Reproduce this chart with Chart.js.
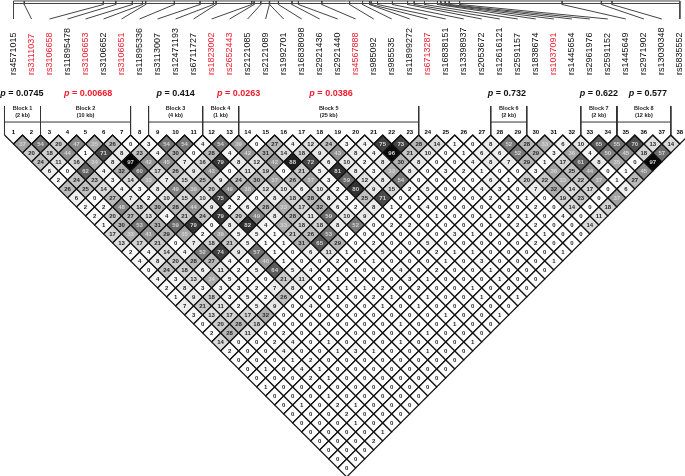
<!DOCTYPE html>
<html>
<head>
<meta charset="utf-8">
<title>LD plot</title>
<script src="https://cdn.jsdelivr.net/npm/chart.js@4/dist/chart.umd.min.js"></script>
<style>
html, body { margin: 0; padding: 0; background: #fff; }
canvas { display: block; filter: blur(0.35px); }
</style>
</head>
<body>
<canvas id="ldChart" width="685" height="476"></canvas>
<script>
// SNP names, left to right
const snpNames = ['rs4571015', 'rs3111037', 'rs3106658', 'rs11895478', 'rs3106653', 'rs3106652', 'rs3106651', 'rs11895336', 'rs3113007', 'rs12471193', 'rs6711727', 'rs1823002', 'rs2652443', 'rs2121085', 'rs2121089', 'rs1992701', 'rs16838098', 'rs2921436', 'rs2921440', 'rs4567888', 'rs985092', 'rs985535', 'rs11899272', 'rs6713287', 'rs16838151', 'rs13398937', 'rs2053672', 'rs12616121', 'rs2591157', 'rs1838674', 'rs1037091', 'rs1445654', 'rs2961976', 'rs2591152', 'rs1445649', 'rs2971902', 'rs13030348', 'rs5835552'];
const redSnps = ['rs3111037', 'rs3106658', 'rs3106653', 'rs3106651', 'rs1823002', 'rs2652443', 'rs4567888', 'rs6713287', 'rs1037091'];

// where each SNP sits on the physical track, in marker units
const snpTrack = [1, 1.6, 5.99, 6.68, 7.6, 8.16, 8.34, 9.93, 11.36, 12.1, 12.25, 14.23, 14.36, 14.73, 15.21, 15.22, 15.71, 16.46, 16.82, 18.12, 19.66, 20.38, 20.77, 20.86, 21.21, 22.04, 22.88, 23.25, 23.82, 24.54, 24.73, 24.97, 25.19, 25.77, 31.46, 33.64, 34.23, 38];

// haplotype blocks
const blockFirst = [1, 3, 9, 12, 14, 28, 33, 35];
const blockLast = [2, 7, 11, 13, 23, 29, 34, 37];
const blockKb = [2, 10, 4, 1, 25, 2, 2, 12];
const blockP = ['0.0745', '0.00668', '0.414', '0.0263', '0.0386', '0.732', '0.622', '0.577'];
const blockPAt = [1.47, 5.14, 10, 13.5, 18.63, 28.4, 33.5, 36.23];

// r2 x 100, one row per marker distance (row 1 = neighbours)
const ldRows = [
    [37, 54, 20, 47, 35, 26, 0, 3, 54, 54, 4, 54, 39, 0, 27, 4, 12, 24, 3, 4, 75, 73, 28, 14, 1, 0, 8, 52, 28, 33, 6, 10, 65, 55, 70, 13, 14],
    [20, 18, 44, 1, 71, 8, 23, 4, 30, 0, 28, 4, 42, 31, 14, 18, 9, 43, 8, 4, 96, 21, 10, 0, 1, 6, 6, 52, 29, 3, 36, 4, 50, 45, 18, 57],
    [24, 11, 16, 34, 8, 97, 42, 45, 7, 16, 79, 8, 12, 42, 88, 72, 6, 10, 2, 8, 30, 8, 0, 0, 4, 8, 7, 29, 1, 17, 61, 8, 35, 0, 97],
    [6, 0, 62, 4, 32, 60, 17, 26, 9, 43, 0, 11, 19, 0, 21, 5, 81, 8, 3, 33, 8, 0, 3, 2, 1, 0, 0, 3, 36, 25, 44, 0, 1, 45],
    [2, 24, 23, 3, 14, 33, 7, 15, 25, 9, 24, 30, 37, 26, 37, 3, 59, 12, 8, 54, 0, 0, 0, 0, 6, 1, 20, 22, 33, 22, 37, 1, 27],
    [26, 25, 14, 4, 3, 8, 49, 39, 20, 49, 38, 12, 10, 6, 10, 2, 80, 9, 15, 2, 5, 0, 0, 4, 3, 0, 7, 32, 14, 17, 0, 6],
    [6, 0, 27, 7, 2, 10, 15, 10, 75, 2, 0, 8, 18, 28, 8, 3, 25, 71, 0, 1, 0, 0, 0, 2, 1, 1, 0, 19, 23, 0, 37],
    [2, 2, 48, 18, 30, 28, 44, 9, 2, 6, 28, 33, 17, 32, 6, 2, 8, 1, 0, 4, 0, 0, 0, 0, 0, 2, 0, 14, 0, 18],
    [2, 20, 27, 13, 4, 21, 24, 79, 20, 49, 8, 28, 11, 59, 10, 9, 0, 2, 0, 1, 0, 0, 1, 2, 1, 0, 4, 0, 11],
    [1, 30, 53, 31, 59, 79, 0, 8, 82, 4, 33, 18, 18, 8, 52, 0, 2, 2, 0, 0, 0, 0, 0, 2, 2, 0, 0, 14],
    [17, 33, 41, 29, 35, 2, 39, 5, 5, 1, 21, 26, 53, 0, 0, 0, 0, 0, 0, 3, 1, 0, 0, 1, 1, 0, 0],
    [13, 17, 21, 0, 7, 18, 21, 5, 1, 1, 31, 65, 29, 0, 2, 0, 0, 5, 0, 0, 0, 0, 0, 2, 0, 0],
    [2, 4, 14, 4, 52, 74, 9, 57, 1, 0, 6, 11, 1, 1, 5, 0, 0, 2, 1, 1, 0, 0, 0, 0, 1],
    [4, 8, 20, 28, 27, 4, 0, 40, 1, 0, 0, 2, 0, 1, 0, 0, 0, 1, 0, 3, 0, 0, 0, 1],
    [0, 24, 18, 6, 11, 2, 5, 64, 5, 4, 0, 0, 0, 0, 4, 0, 2, 0, 0, 1, 0, 0, 0],
    [4, 3, 13, 34, 5, 1, 0, 21, 11, 0, 1, 1, 0, 0, 3, 1, 0, 0, 0, 1, 0, 0],
    [2, 8, 3, 3, 3, 2, 7, 8, 0, 1, 1, 1, 2, 0, 2, 0, 0, 1, 0, 0, 0],
    [1, 9, 18, 3, 5, 2, 26, 0, 0, 1, 0, 2, 1, 0, 1, 0, 0, 1, 0, 1],
    [7, 21, 11, 2, 5, 9, 0, 4, 0, 0, 0, 1, 0, 1, 0, 0, 0, 0, 0],
    [3, 13, 17, 17, 32, 0, 0, 0, 0, 0, 0, 0, 0, 0, 1, 0, 0, 1],
    [0, 20, 28, 18, 0, 0, 0, 0, 0, 0, 0, 1, 0, 0, 1, 0, 0],
    [2, 28, 11, 0, 2, 0, 1, 0, 0, 0, 0, 0, 1, 0, 0, 0],
    [14, 0, 0, 2, 4, 0, 1, 0, 0, 0, 1, 0, 0, 0, 1],
    [2, 0, 0, 4, 0, 0, 1, 3, 1, 0, 0, 1, 0, 0],
    [0, 0, 0, 1, 2, 0, 0, 0, 0, 0, 0, 0, 0],
    [0, 1, 0, 4, 1, 0, 0, 0, 0, 0, 0, 0],
    [0, 0, 0, 2, 1, 0, 0, 0, 0, 0, 0],
    [1, 0, 0, 0, 0, 0, 0, 0, 0, 0],
    [0, 0, 0, 1, 0, 0, 0, 0, 0],
    [0, 1, 0, 2, 1, 0, 0, 0],
    [0, 0, 0, 2, 0, 0, 0],
    [0, 0, 0, 1, 0, 0],
    [0, 0, 0, 0, 1],
    [0, 0, 0, 2],
    [0, 0, 0],
    [0, 0],
    [0]
];

const RED = '#ef1c2e';
const FONT = '"Liberation Sans", Arial, sans-serif';

function shade(v) {
    const g = Math.round(255 * (1 - v / 100));
    return 'rgb(' + g + ',' + g + ',' + g + ')';
}

// one point per pair of markers: x halfway between them, y = how far apart
const cellPoints = [];
ldRows.forEach(function (row, r) {
    row.forEach(function (v, k) {
        cellPoints.push({ x: k + 1 + (r + 1) / 2, y: r + 1, v: v });
    });
});

// rail with a stalk from every SNP's track position down to its name
const railY = -14.61;
const trackLines = [
    { x: 1, y: -14.89 }, { x: 38, y: -14.89 }, { x: NaN, y: NaN },
    { x: 1, y: railY }, { x: 38, y: railY }, { x: NaN, y: NaN }
];
snpTrack.forEach(function (pos, k) {
    trackLines.push({ x: pos, y: -14.89 }, { x: pos, y: -14.5 }, { x: k + 1, y: -12.89 }, { x: NaN, y: NaN });
});

// zigzag under the marker number row
const zigzag = [];
snpNames.forEach(function (name, k) {
    zigzag.push({ x: k + 0.5, y: 0 }, { x: k + 1, y: 1 });
});
zigzag.push({ x: 38.5, y: 0 });

// block frames
const blockLines = [];
blockFirst.forEach(function (first, b) {
    const l = first - 0.5;
    const r = blockLast[b] + 0.5;
    blockLines.push({ x: l, y: -3.22 }, { x: l, y: 0 }, { x: NaN, y: NaN });
    blockLines.push({ x: r, y: -3.22 }, { x: r, y: 0 }, { x: NaN, y: NaN });
    blockLines.push({ x: l, y: -1.44 }, { x: r, y: -1.44 }, { x: NaN, y: NaN });
});

// all the text goes on after the marks, placed through the scales
const textPlugin = {
    id: 'ldText',
    afterDatasetsDraw(chart) {
        const ctx = chart.ctx;
        const xs = chart.scales.x;
        const ys = chart.scales.y;
        ctx.save();

        // r2 numbers
        ctx.textAlign = 'center';
        ctx.textBaseline = 'middle';
        ctx.font = 'bold 6px ' + FONT;
        cellPoints.forEach(function (c) {
            ctx.fillStyle = c.v >= 33 ? '#d4d4d4' : '#262626';
            ctx.fillText(c.v, xs.getPixelForValue(c.x), ys.getPixelForValue(c.y) + 0.3);
        });

        // marker numbers
        ctx.fillStyle = '#000';
        snpNames.forEach(function (name, k) {
            ctx.fillText(k + 1, xs.getPixelForValue(k + 1), ys.getPixelForValue(-0.33));
        });

        // block captions
        ctx.font = 'bold 5.5px ' + FONT;
        ctx.fillStyle = '#222';
        blockFirst.forEach(function (first, b) {
            const mid = xs.getPixelForValue((first + blockLast[b]) / 2);
            ctx.fillText('Block ' + (b + 1), mid, ys.getPixelForValue(-3));
            ctx.fillText('(' + blockKb[b] + ' kb)', mid, ys.getPixelForValue(-2.22));
        });

        // p values
        blockP.forEach(function (p, b) {
            const rest = ' = ' + p;
            ctx.font = 'italic bold 9px ' + FONT;
            const w1 = ctx.measureText('p').width;
            ctx.font = 'bold 9px ' + FONT;
            const w2 = ctx.measureText(rest).width;
            const left = xs.getPixelForValue(blockPAt[b]) - (w1 + w2) / 2;
            const y = ys.getPixelForValue(-4.56);
            ctx.textAlign = 'left';
            ctx.fillStyle = parseFloat(p) < 0.05 ? RED : '#111';
            ctx.font = 'italic bold 9px ' + FONT;
            ctx.fillText('p', left, y);
            ctx.font = 'bold 9px ' + FONT;
            ctx.fillText(rest, left + w1, y);
        });

        // SNP names, rotated
        ctx.font = '9px ' + FONT;
        ctx.textAlign = 'left';
        snpNames.forEach(function (name, k) {
            ctx.save();
            ctx.translate(xs.getPixelForValue(k + 1), ys.getPixelForValue(-6.67));
            ctx.rotate(-Math.PI / 2);
            ctx.fillStyle = redSnps.includes(name) ? RED : '#111';
            ctx.fillText(name, 0, 0);
            ctx.restore();
        });
        ctx.restore();
    }
};

const ldCtx = document.getElementById('ldChart').getContext('2d');
const ldChart = new Chart(ldCtx, {
    type: 'scatter',
    data: {
        datasets: [
            {
                data: blockLines,
                showLine: true,
                borderColor: '#333',
                borderWidth: 1,
                pointRadius: 0
            },
            {
                data: zigzag,
                showLine: true,
                borderColor: '#111',
                borderWidth: 1.2,
                pointRadius: 0
            },
            {
                data: trackLines,
                showLine: true,
                borderColor: '#444',
                borderWidth: 1,
                pointRadius: 0
            },
            {
                data: cellPoints,
                pointStyle: 'rectRot',
                pointRadius: 9,
                pointBackgroundColor: cellPoints.map(function (c) { return shade(c.v); }),
                pointBorderColor: '#111',
                pointBorderWidth: 1.2
            }
        ]
    },
    options: {
        responsive: false,
        animation: false,
        events: [],
        layout: { padding: 0, autoPadding: false },
        plugins: {
            legend: { display: false },
            tooltip: { enabled: false }
        },
        scales: {
            x: { type: 'linear', display: false, min: 0.2504, max: 38.285 },
            y: { type: 'linear', display: false, reverse: true, min: -15, max: 37.889 }
        }
    },
    plugins: [textPlugin]
});
</script>
</body>
</html>
